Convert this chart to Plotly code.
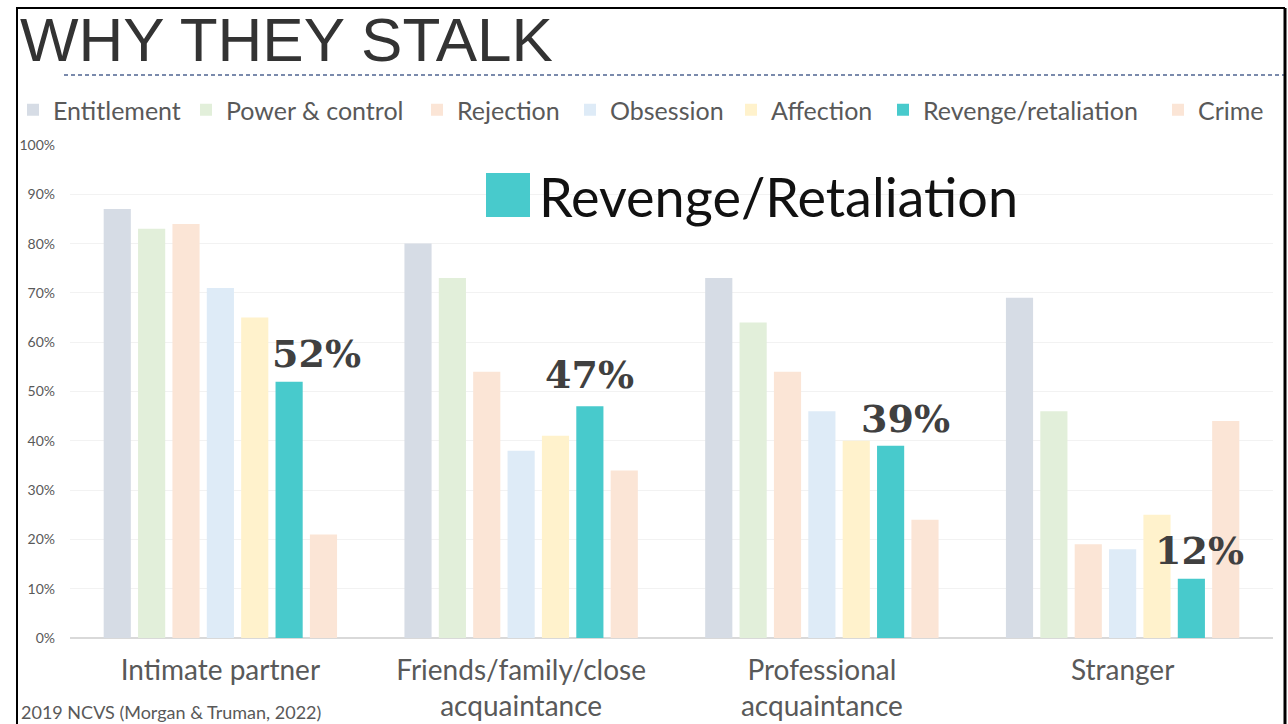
import plotly.graph_objects as go

categories = ["Intimate partner", "Friends/family/close<br>acquaintance",
              "Professional<br>acquaintance", "Stranger"]
series_names = ["Entitlement", "Power & control", "Rejection", "Obsession",
                "Affection", "Revenge/retaliation", "Crime"]
entitlement = [87, 80, 73, 69]
power_control = [83, 73, 64, 46]
rejection = [84, 54, 54, 19]
obsession = [71, 38, 46, 18]
affection = [65, 41, 40, 25]
revenge = [52, 47, 39, 12]
crime = [21, 34, 24, 44]
series_values = [entitlement, power_control, rejection, obsession, affection, revenge, crime]
colors = ["#D6DCE5", "#E2EFDA", "#FBE5D6", "#DEEBF7", "#FFF2CC", "#48CACC", "#FBE5D6"]
y_ticks = [0, 10, 20, 30, 40, 50, 60, 70, 80, 90, 100]
y_tick_labels = [f"{v}%" for v in y_ticks]

W, H = 1288, 724
def px(x):
    return x / W
def py(y):
    return 1 - y / H

FONT = "Lato"
# legend text start positions (pixels) for each series
legend_text_x = [55, 228, 459, 612, 773, 925, 1200]
# horizontal nudges (pixels) of the value labels relative to the revenge bar centre
label_nudge = [27, 0, 15, 8]
label_lift = [12, 15, 11, 12]

fig = go.Figure()
legend_layouts = {}
for i, (name, vals, col) in enumerate(zip(series_names, series_values, colors)):
    lname = "legend" if i == 0 else f"legend{i + 1}"
    fig.add_trace(go.Bar(name=name, x=categories, y=vals, marker_color=col,
                         marker_line_width=0, legend=lname))
    legend_layouts[lname] = dict(
        orientation="h", x=px(legend_text_x[i] - 42), y=py(110),
        xanchor="left", yanchor="middle",
        font=dict(family=FONT, size=25, color="#595959"),
        itemwidth=30, bgcolor="rgba(0,0,0,0)", borderwidth=0)

# value labels above revenge bars (bar centre sits 2 slots right of category centre)
slot = (1 - 0.2) * (1273 - 70) / len(categories) / len(series_names)
for cat, v, dx, dy in zip(categories, revenge, label_nudge, label_lift):
    fig.add_annotation(x=cat, y=v, xref="x", yref="y", text=f"{v}%",
                       showarrow=False, xanchor="center", yanchor="bottom",
                       xshift=2 * slot + dx, yshift=dy - 8,
                       font=dict(family="DejaVu Serif", size=38, color="#404040", weight="bold"))

# big Revenge/Retaliation annotation
fig.add_shape(type="rect", xref="paper", yref="paper",
              x0=px(486), x1=px(530), y0=py(217), y1=py(173),
              fillcolor="#48CACC", line_width=0)
fig.add_annotation(xref="paper", yref="paper", x=px(537), y=py(197),
                   text="Revenge/Retaliation", showarrow=False, xanchor="left",
                   yanchor="middle", font=dict(family=FONT, size=54, color="#111111"))

# title
fig.add_annotation(xref="paper", yref="paper", x=px(18), y=py(40),
                   text="WHY THEY STALK", showarrow=False, xanchor="left",
                   yanchor="middle", font=dict(family="Liberation Sans", size=62, color="#333333"))
# dashed line
fig.add_shape(type="line", xref="paper", yref="paper", x0=px(64), x1=px(1288),
              y0=py(75), y1=py(75), line=dict(color="#4F6491", width=1.3, dash="4px,3px"))
# frame
fig.add_shape(type="line", xref="paper", yref="paper", x0=px(17), x1=px(17),
              y0=py(8), y1=py(724), line=dict(color="#000000", width=2))
fig.add_shape(type="line", xref="paper", yref="paper", x0=px(16), x1=px(1285),
              y0=py(8), y1=py(8), line=dict(color="#000000", width=2))
fig.add_shape(type="line", xref="paper", yref="paper", x0=px(1285), x1=px(1285),
              y0=py(8), y1=py(724), line=dict(color="#000000", width=3))

# footer
fig.add_annotation(xref="paper", yref="paper", x=px(19), y=py(712),
                   text="2019 NCVS (Morgan &amp; Truman, 2022)", showarrow=False,
                   xanchor="left", yanchor="middle",
                   font=dict(family=FONT, size=18, color="#595959"))

fig.update_layout(
    width=W, height=H,
    margin=dict(l=0, r=0, t=0, b=0, autoexpand=False),
    paper_bgcolor="white", plot_bgcolor="white",
    barmode="group", bargap=0.2, bargroupgap=0.21,
    font=dict(family=FONT, color="#595959"),
    xaxis=dict(domain=[px(70), px(1273)], tickfont=dict(family=FONT, size=28, color="#595959"),
               showline=False, ticks="", showgrid=False, ticklabelstandoff=13,
               automargin=False),
    yaxis=dict(domain=[py(638), py(145)], range=[0, 100], tickvals=y_ticks,
               ticktext=y_tick_labels, tickfont=dict(family=FONT, size=14, color="#595959"),
               gridcolor="#F2F2F2", gridwidth=1, zeroline=True, zerolinecolor="#D9D9D9",
               zerolinewidth=1.5, ticks="", ticklabelstandoff=14, automargin=False),
    showlegend=True,
    **legend_layouts,
)
fig.write_html(
    "out.html",
    config={"displayModeBar": False},
    post_script=(
        "document.body.style.margin='0';document.body.style.overflow='hidden';"
    ),
)
